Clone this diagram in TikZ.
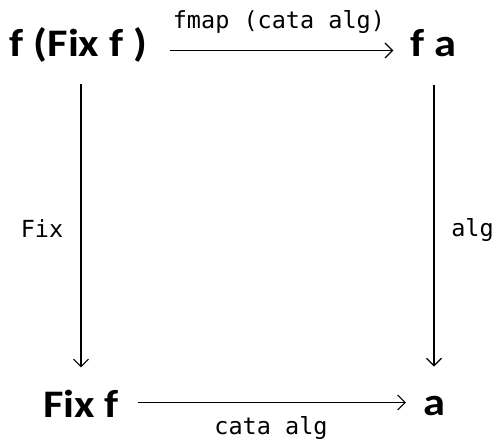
\documentclass[tikz,border=0pt]{standalone}
\usepackage{fontspec}
\setmainfont[FakeStretch=1.14]{Carlito}
\newfontfamily\monof{DejaVu Sans Mono}
\usetikzlibrary{arrows.meta}
\tikzset{
  obj/.style={font=\fontsize{39}{40}\selectfont\bfseries, inner sep=0pt, anchor=base},
  lbl/.style={font=\monof\fontsize{23.5}{25}\selectfont, inner sep=0pt, anchor=base},
  arr/.style={line width=1.1pt, -{Straight Barb[length=7.5pt,width=15pt,line width=1.1pt]}}
}
\begin{document}
\begin{tikzpicture}[x=1pt,y=-1pt]
\useasboundingbox (0,0) rectangle (497,443);
\node[obj] (A) at (78.5,57) {f (Fix f )};
\node[obj] (B) at (433.5,57) {f a};
\node[obj] (C) at (81,417) {Fix f};
\node[obj] (D) at (434,415) {a};
\draw[arr, shorten <=22pt, shorten >=17pt] ([yshift=6.5pt]A.base east) -- ([yshift=6.5pt]A.base east -| B.west)
  node[lbl, midway, yshift=22pt] (l1) {fmap (cata alg)};
\draw[arr, shorten <=19pt, shorten >=17pt] ([yshift=14.5pt]C.base east) -- ([yshift=14.5pt]C.base east -| D.west)
  node[lbl, midway, yshift=-32pt] (l2) {cata alg};
\draw[arr, shorten <=21pt, shorten >=22pt] (C.north |- A.south) -- (C.north)
  node[lbl, midway, xshift=-39pt, yshift=-11pt] (l3) {Fix};
\draw[arr, shorten <=28pt, shorten >=29pt] (D.north |- B.south) -- (D.north)
  node[lbl, midway, xshift=38.5pt, yshift=-10pt] (l4) {alg};
\end{tikzpicture}
\end{document}
